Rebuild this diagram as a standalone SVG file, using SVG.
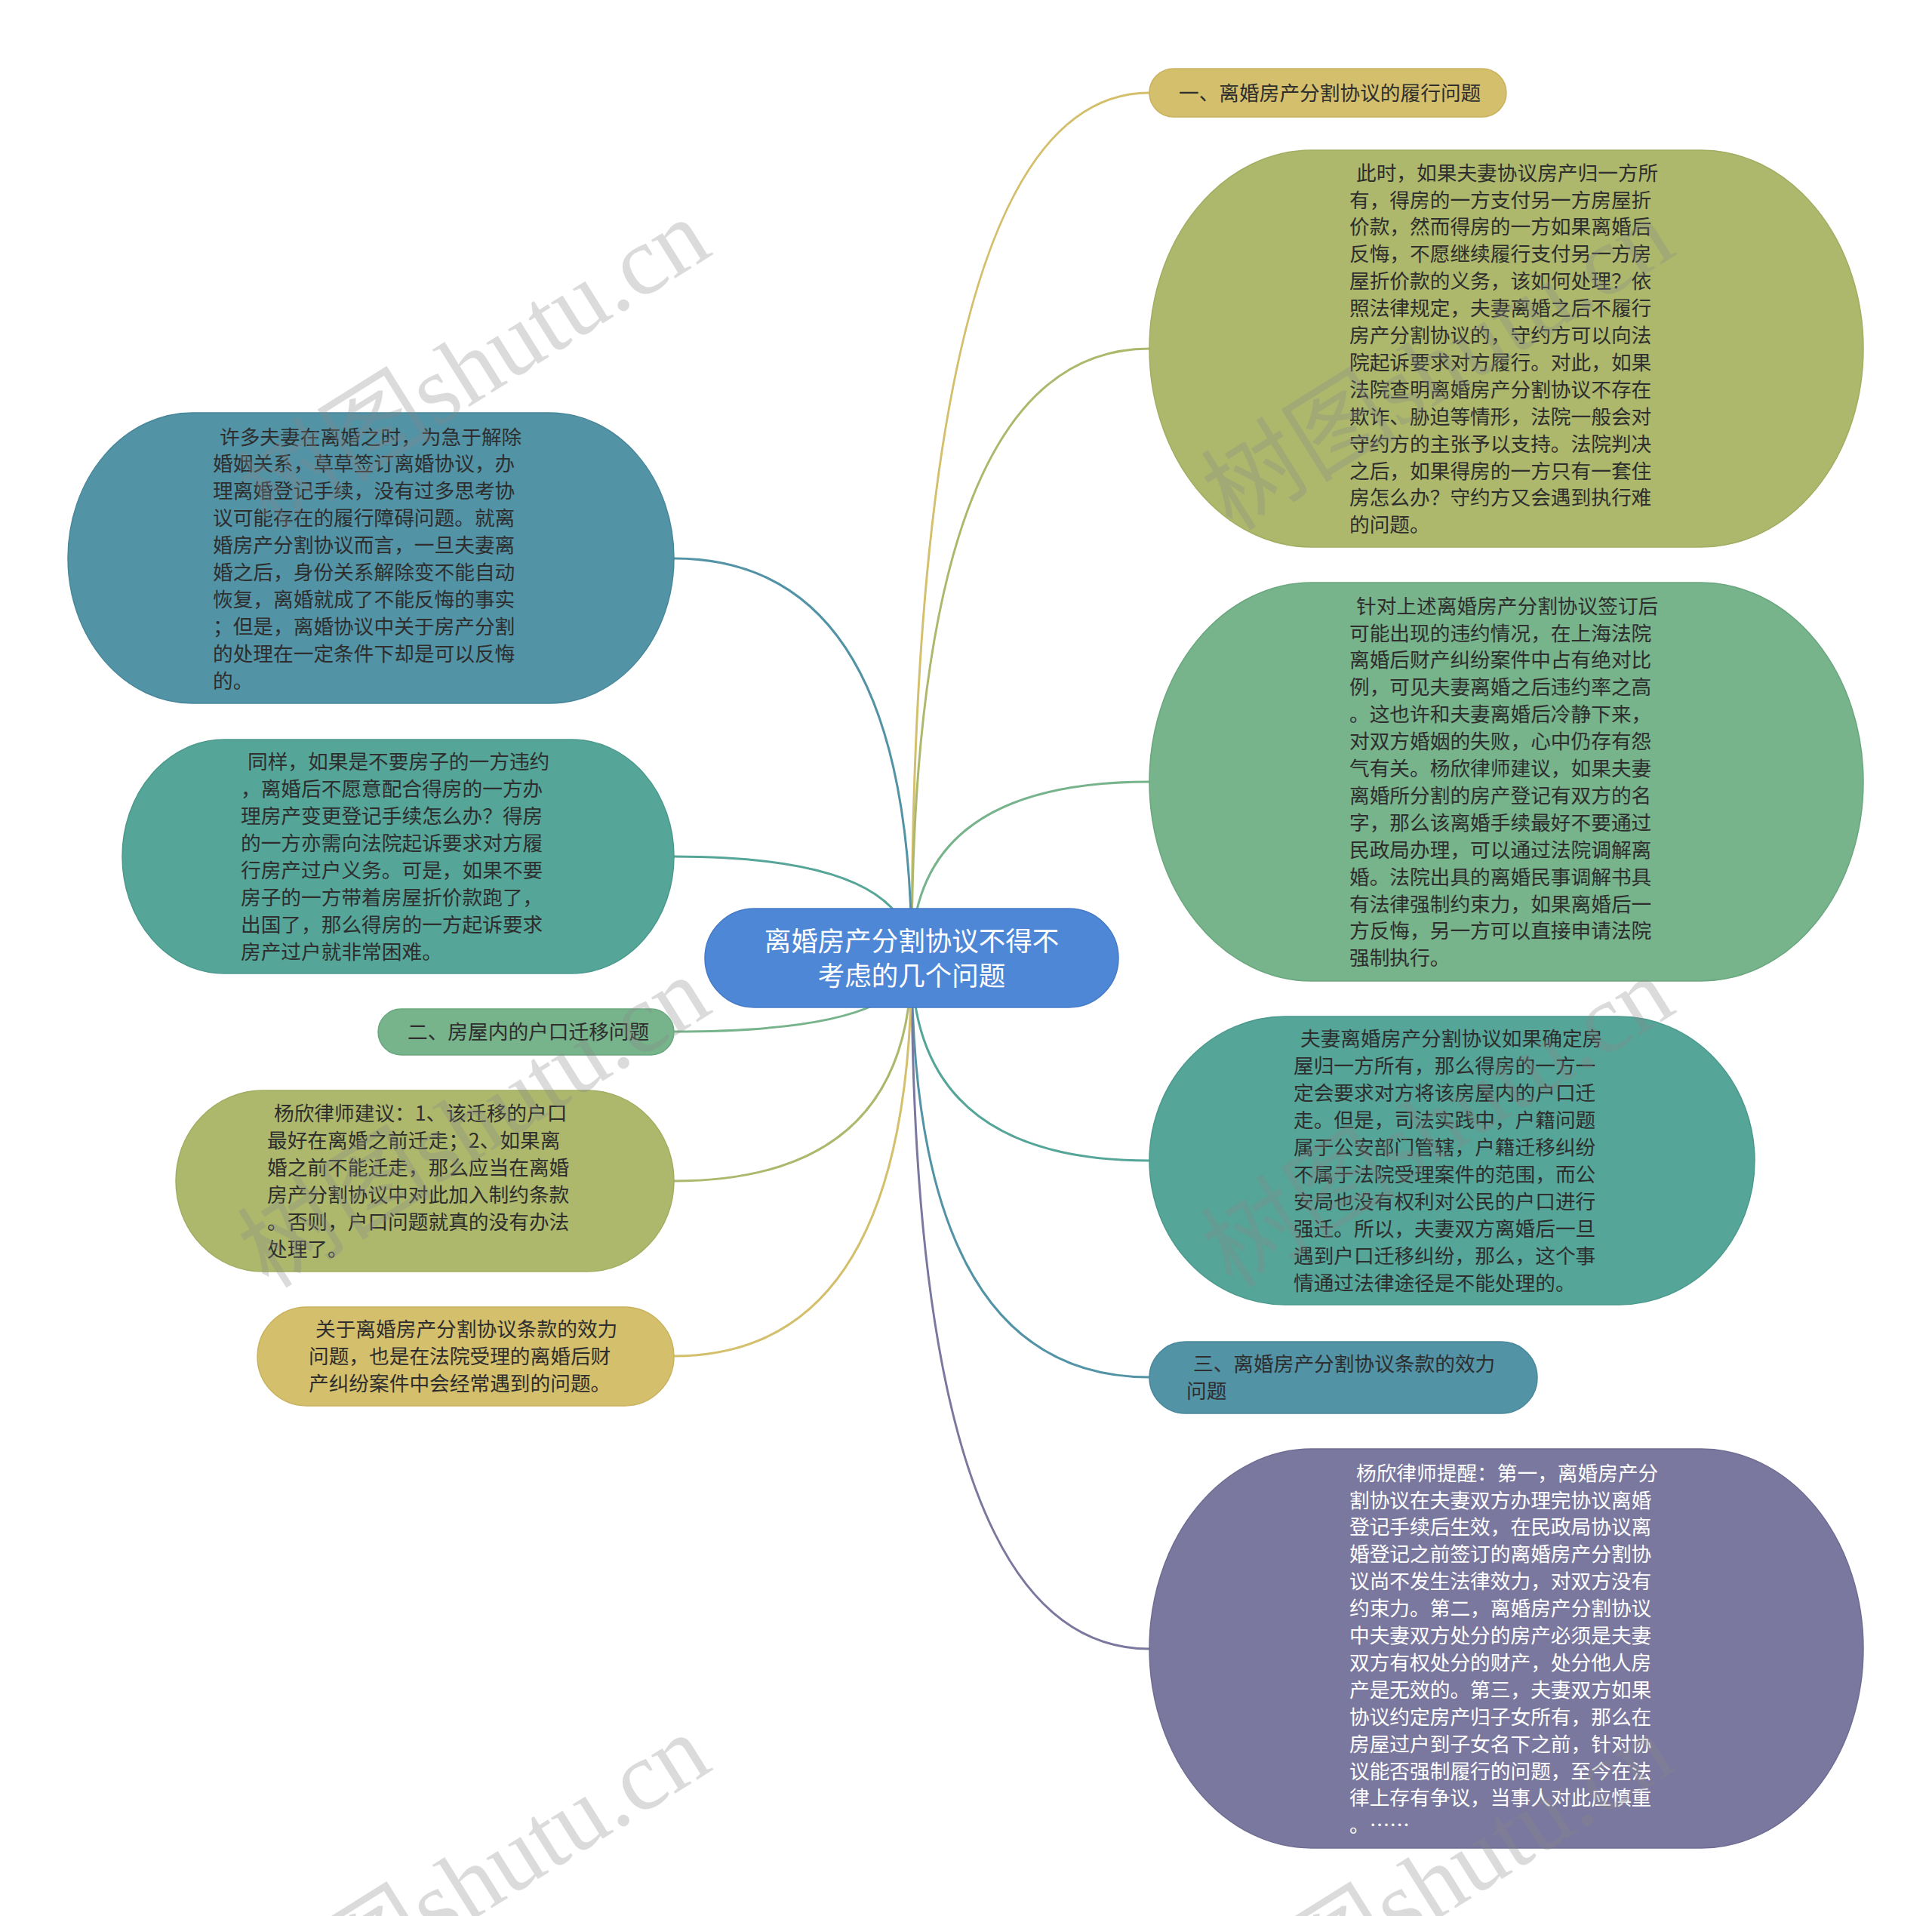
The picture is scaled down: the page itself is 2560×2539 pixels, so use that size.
<svg xmlns="http://www.w3.org/2000/svg" width="2560" height="2539" viewBox="0 0 2560 2539">
<style>
.t{font-family:"Noto Sans CJK SC","Noto Sans",sans-serif;font-size:26.7px;fill:#2e2e2e}
.tw{fill:#ffffff}
.ct{font-family:"Noto Sans CJK SC","Noto Sans",sans-serif;font-size:35.5px;fill:#ffffff}
.c{fill:none;stroke-width:3}
.wm{font-family:"Liberation Serif","Noto Sans CJK SC",serif;font-size:130px;fill:#888888;fill-opacity:0.3}
.gold{fill:#d4bf6c;stroke:#c9b25e}
.olive{fill:#adb86d;stroke:#a1ad60}
.green{fill:#77b38b;stroke:#6aa77e}
.teal{fill:#55a598;stroke:#4a998c}
.bteal{fill:#5293a6;stroke:#48879a}
.purple{fill:#7a789e;stroke:#6e6c93}
</style>
<rect width="2560" height="2539" fill="#ffffff"/>
<g id="connectors">
<path class="c" stroke="#d4bf6c" d="M1208 1270 Q1208 123 1523 123"/>
<path class="c" stroke="#adb86d" d="M1208 1270 Q1208 462 1523 462"/>
<path class="c" stroke="#77b38b" d="M1208 1270 Q1208 1036 1523 1036"/>
<path class="c" stroke="#55a598" d="M1208 1270 Q1208 1538 1523 1538"/>
<path class="c" stroke="#5293a6" d="M1208 1270 Q1208 1825 1523 1825"/>
<path class="c" stroke="#7a789e" d="M1208 1270 Q1208 2185 1523 2185"/>
<path class="c" stroke="#5293a6" d="M1208 1270 Q1208 740 893 740"/>
<path class="c" stroke="#55a598" d="M1208 1270 Q1208 1135 893 1135"/>
<path class="c" stroke="#77b38b" d="M1208 1270 Q1208 1367 893 1367"/>
<path class="c" stroke="#adb86d" d="M1208 1270 Q1208 1565 893 1565"/>
<path class="c" stroke="#d4bf6c" d="M1208 1270 Q1208 1797 893 1797"/>
</g>
<g id="center">
<rect x="934" y="1204" width="548" height="131" rx="65.5" fill="#4f87d7" stroke="#4479c6" stroke-width="1.5"/>
<text class="ct" text-anchor="middle"><tspan x="1208" y="1260">离婚房产分割协议不得不</tspan><tspan x="1208" y="1306">考虑的几个问题</tspan></text>
</g>
<g id="nodeA">
<rect class="gold" x="1523" y="91" width="473" height="64" rx="32" stroke-width="1.5"/>
<text class="t"><tspan x="1562" y="133">一、离婚房产分割协议的履行问题</tspan></text>
</g>
<g id="nodeB">
<rect class="olive" x="1523" y="199" width="946" height="526" rx="215" ry="263" stroke-width="1.5"/>
<text class="t"><tspan x="1797" y="238.6">此时，如果夫妻协议房产归一方所</tspan><tspan x="1788" dy="35.9">有，得房的一方支付另一方房屋折</tspan><tspan x="1788" dy="35.9">价款，然而得房的一方如果离婚后</tspan><tspan x="1788" dy="35.9">反悔，不愿继续履行支付另一方房</tspan><tspan x="1788" dy="35.9">屋折价款的义务，该如何处理？依</tspan><tspan x="1788" dy="35.9">照法律规定，夫妻离婚之后不履行</tspan><tspan x="1788" dy="35.9">房产分割协议的，守约方可以向法</tspan><tspan x="1788" dy="35.9">院起诉要求对方履行。对此，如果</tspan><tspan x="1788" dy="35.9">法院查明离婚房产分割协议不存在</tspan><tspan x="1788" dy="35.9">欺诈、胁迫等情形，法院一般会对</tspan><tspan x="1788" dy="35.9">守约方的主张予以支持。法院判决</tspan><tspan x="1788" dy="35.9">之后，如果得房的一方只有一套住</tspan><tspan x="1788" dy="35.9">房怎么办？守约方又会遇到执行难</tspan><tspan x="1788" dy="35.9">的问题。</tspan></text>
</g>
<g id="nodeH">
<rect class="green" x="1523" y="772" width="946" height="528" rx="215" ry="264" stroke-width="1.5"/>
<text class="t"><tspan x="1797" y="812.6">针对上述离婚房产分割协议签订后</tspan><tspan x="1788" dy="35.9">可能出现的违约情况，在上海法院</tspan><tspan x="1788" dy="35.9">离婚后财产纠纷案件中占有绝对比</tspan><tspan x="1788" dy="35.9">例，可见夫妻离婚之后违约率之高</tspan><tspan x="1788" dy="35.9">。这也许和夫妻离婚后冷静下来，</tspan><tspan x="1788" dy="35.9">对双方婚姻的失败，心中仍存有怨</tspan><tspan x="1788" dy="35.9">气有关。杨欣律师建议，如果夫妻</tspan><tspan x="1788" dy="35.9">离婚所分割的房产登记有双方的名</tspan><tspan x="1788" dy="35.9">字，那么该离婚手续最好不要通过</tspan><tspan x="1788" dy="35.9">民政局办理，可以通过法院调解离</tspan><tspan x="1788" dy="35.9">婚。法院出具的离婚民事调解书具</tspan><tspan x="1788" dy="35.9">有法律强制约束力，如果离婚后一</tspan><tspan x="1788" dy="35.9">方反悔，另一方可以直接申请法院</tspan><tspan x="1788" dy="35.9">强制执行。</tspan></text>
</g>
<g id="nodeI">
<rect class="teal" x="1523" y="1347" width="802" height="382" rx="180" ry="191" stroke-width="1.5"/>
<text class="t"><tspan x="1723" y="1386.4">夫妻离婚房产分割协议如果确定房</tspan><tspan x="1714" dy="35.9">屋归一方所有，那么得房的一方一</tspan><tspan x="1714" dy="35.9">定会要求对方将该房屋内的户口迁</tspan><tspan x="1714" dy="35.9">走。但是，司法实践中，户籍问题</tspan><tspan x="1714" dy="35.9">属于公安部门管辖，户籍迁移纠纷</tspan><tspan x="1714" dy="35.9">不属于法院受理案件的范围，而公</tspan><tspan x="1714" dy="35.9">安局也没有权利对公民的户口进行</tspan><tspan x="1714" dy="35.9">强迁。所以，夫妻双方离婚后一旦</tspan><tspan x="1714" dy="35.9">遇到户口迁移纠纷，那么，这个事</tspan><tspan x="1714" dy="35.9">情通过法律途径是不能处理的。</tspan></text>
</g>
<g id="nodeJ">
<rect class="bteal" x="1523" y="1778" width="514" height="95" rx="47.5" stroke-width="1.5"/>
<text class="t"><tspan x="1581" y="1817">三、离婚房产分割协议条款的效力</tspan><tspan x="1572" dy="35.9">问题</tspan></text>
</g>
<g id="nodeK">
<rect class="purple" x="1523" y="1920" width="946" height="529" rx="215" ry="264.5" stroke-width="1.5"/>
<text class="t tw"><tspan x="1797" y="1961.6">杨欣律师提醒：第一，离婚房产分</tspan><tspan x="1788" dy="35.9">割协议在夫妻双方办理完协议离婚</tspan><tspan x="1788" dy="35.9">登记手续后生效，在民政局协议离</tspan><tspan x="1788" dy="35.9">婚登记之前签订的离婚房产分割协</tspan><tspan x="1788" dy="35.9">议尚不发生法律效力，对双方没有</tspan><tspan x="1788" dy="35.9">约束力。第二，离婚房产分割协议</tspan><tspan x="1788" dy="35.9">中夫妻双方处分的房产必须是夫妻</tspan><tspan x="1788" dy="35.9">双方有权处分的财产，处分他人房</tspan><tspan x="1788" dy="35.9">产是无效的。第三，夫妻双方如果</tspan><tspan x="1788" dy="35.9">协议约定房产归子女所有，那么在</tspan><tspan x="1788" dy="35.9">房屋过户到子女名下之前，针对协</tspan><tspan x="1788" dy="35.9">议能否强制履行的问题，至今在法</tspan><tspan x="1788" dy="35.9">律上存有争议，当事人对此应慎重</tspan><tspan x="1788" dy="35.9">。……</tspan></text>
</g>
<g id="nodeC">
<rect class="bteal" x="90" y="547" width="803" height="385" rx="165" ry="192.5" stroke-width="1.5"/>
<text class="t"><tspan x="291" y="588.5">许多夫妻在离婚之时，为急于解除</tspan><tspan x="282" dy="35.9">婚姻关系，草草签订离婚协议，办</tspan><tspan x="282" dy="35.9">理离婚登记手续，没有过多思考协</tspan><tspan x="282" dy="35.9">议可能存在的履行障碍问题。就离</tspan><tspan x="282" dy="35.9">婚房产分割协议而言，一旦夫妻离</tspan><tspan x="282" dy="35.9">婚之后，身份关系解除变不能自动</tspan><tspan x="282" dy="35.9">恢复，离婚就成了不能反悔的事实</tspan><tspan x="282" dy="35.9">；但是，离婚协议中关于房产分割</tspan><tspan x="282" dy="35.9">的处理在一定条件下却是可以反悔</tspan><tspan x="282" dy="35.9">的。</tspan></text>
</g>
<g id="nodeD">
<rect class="teal" x="162" y="980" width="731" height="310" rx="135" ry="155" stroke-width="1.5"/>
<text class="t"><tspan x="328" y="1019.4">同样，如果是不要房子的一方违约</tspan><tspan x="319" dy="35.9">，离婚后不愿意配合得房的一方办</tspan><tspan x="319" dy="35.9">理房产变更登记手续怎么办？得房</tspan><tspan x="319" dy="35.9">的一方亦需向法院起诉要求对方履</tspan><tspan x="319" dy="35.9">行房产过户义务。可是，如果不要</tspan><tspan x="319" dy="35.9">房子的一方带着房屋折价款跑了，</tspan><tspan x="319" dy="35.9">出国了，那么得房的一方起诉要求</tspan><tspan x="319" dy="35.9">房产过户就非常困难。</tspan></text>
</g>
<g id="nodeE">
<rect class="green" x="501" y="1337" width="392" height="61" rx="30.5" stroke-width="1.5"/>
<text class="t"><tspan x="540" y="1377">二、房屋内的户口迁移问题</tspan></text>
</g>
<g id="nodeF">
<rect class="olive" x="233" y="1445" width="660" height="240" rx="115" ry="120" stroke-width="1.5"/>
<text class="t"><tspan x="363" y="1485">杨欣律师建议：1、该迁移的户口</tspan><tspan x="354" dy="35.9">最好在离婚之前迁走；2、如果离</tspan><tspan x="354" dy="35.9">婚之前不能迁走，那么应当在离婚</tspan><tspan x="354" dy="35.9">房产分割协议中对此加入制约条款</tspan><tspan x="354" dy="35.9">。否则，户口问题就真的没有办法</tspan><tspan x="354" dy="35.9">处理了。</tspan></text>
</g>
<g id="nodeG">
<rect class="gold" x="341" y="1732" width="552" height="131" rx="65.5" stroke-width="1.5"/>
<text class="t"><tspan x="418" y="1771">关于离婚房产分割协议条款的效力</tspan><tspan x="409" dy="35.9">问题，也是在法院受理的离婚后财</tspan><tspan x="409" dy="35.9">产纠纷案件中会经常遇到的问题。</tspan></text>
</g>
<g id="watermark">
<text class="wm" x="356" y="705" transform="rotate(-32 356 705)">树图shutu.cn</text>
<text class="wm" x="1633" y="705" transform="rotate(-32 1633 705)">树图shutu.cn</text>
<text class="wm" x="356" y="1709" transform="rotate(-32 356 1709)">树图shutu.cn</text>
<text class="wm" x="1633" y="1709" transform="rotate(-32 1633 1709)">树图shutu.cn</text>
<text class="wm" x="356" y="2713" transform="rotate(-32 356 2713)">树图shutu.cn</text>
<text class="wm" x="1633" y="2713" transform="rotate(-32 1633 2713)">树图shutu.cn</text>
</g>
</svg>
